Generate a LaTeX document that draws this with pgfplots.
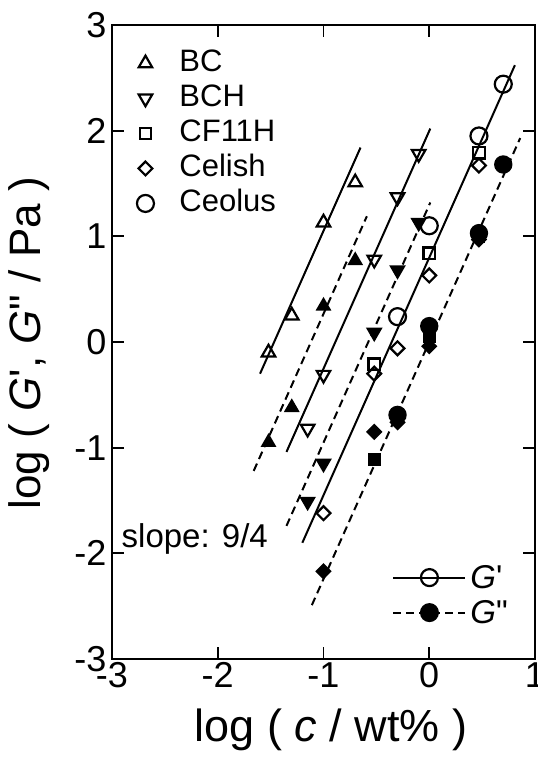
\documentclass[border=0pt]{standalone}
\usepackage{fontspec}
\setmainfont{Liberation Sans}
\usepackage{pgfplots}
\pgfplotsset{compat=1.18}
\begin{document}
\begin{tikzpicture}
\pgfplotsset{
  gline/.style={black, line width=2pt, no marks, forget plot},
  dline/.style={black, line width=2pt, no marks, forget plot, dash pattern=on 8pt off 5pt},
  omk/.style={black, only marks, line width=2.2pt, mark options={solid, fill=white, line width=2.2pt}},
  fmk/.style={black, only marks, forget plot, line width=1.8pt, mark options={solid, fill=black, line width=1.4pt}},
  tri/.style={mark=triangle, mark size=7.8pt},
  trif/.style={mark=triangle*, mark size=7.8pt},
  tdn/.style={mark=triangle, mark size=7.8pt, mark options={rotate=180}},
  tdnf/.style={mark=triangle*, mark size=7.8pt, mark options={rotate=180}},
  sq/.style={mark=square, mark size=5.7pt},
  sqf/.style={mark=square*, mark size=5.7pt},
  dia/.style={mark=square, mark size=4.9pt, mark options={rotate=45}},
  diaf/.style={mark=square*, mark size=4.9pt, mark options={rotate=45}},
  cir/.style={mark=o, mark size=8.5pt},
  cirf/.style={mark=*, mark size=8.5pt},
}
\begin{axis}[
  at={(0pt,0pt)}, anchor=south west,
  scale only axis, width=423pt, height=634pt,
  xmin=-3, xmax=1, ymin=-3, ymax=3,
  xtick={-3,-2,-1,0,1}, ytick={-3,-2,-1,0,1,2,3},
  tick align=inside, major tick length=12pt,
  axis line style={line width=2.3pt},
  every tick/.style={black, line width=1.9pt},
  ticklabel style={font=\fontsize{36}{38}\selectfont},
  /pgf/number format/assume math mode=true,
  xticklabel style={yshift=0pt},
  yticklabel style={xshift=-2pt},
  xlabel={log ( \textit{c} / wt\% )},
  ylabel={log ( \textit{G}\textquotesingle, \textit{G}\textquotedbl{} / Pa )},
  every axis x label/.style={at={(axis description cs:0.518,-0.112)}, anchor=center, font=\fontsize{45}{47}\selectfont},
  every axis y label/.style={at={(axis description cs:-0.195,0.498)}, rotate=90, anchor=center, font=\fontsize{44}{46}\selectfont},
  legend style={at={(axis cs:-2.78,2.78)}, anchor=north west, draw=none, fill=none,
    font=\fontsize{31}{33}\selectfont, inner sep=0pt, column sep=23pt, row sep=5pt,
    nodes={inner sep=1pt, text height=22pt, text depth=6pt}},
  legend cell align=left,
  legend image code/.code={\path[draw=none, fill=none] (0pt,0pt) -- (20pt,0pt); \draw[#1] plot coordinates {(10pt,0pt)};},
]
% fitted lines, slope 9/4
\addplot[gline] coordinates {(-1.60,-0.30) (-0.65,1.84)};
\addplot[dline] coordinates {(-1.66,-1.22) (-0.59,1.19)};
\addplot[gline] coordinates {(-1.35,-1.04) (0.01,2.02)};
\addplot[dline] coordinates {(-1.35,-1.74) (0.01,1.32)};
\addplot[gline] coordinates {(-1.20,-1.90) (0.81,2.62)};
\addplot[dline] coordinates {(-1.11,-2.49) (0.86,1.93)};
% BC
\addplot[fmk, trif] coordinates {(-1.52,-0.95) (-1.30,-0.62) (-1.00,0.34) (-0.70,0.77)};
\addplot[omk, tri] coordinates {(-1.52,-0.10) (-1.30,0.25) (-1.00,1.13) (-0.70,1.51)};
\addlegendentry{BC}
% BCH
\addplot[fmk, tdnf] coordinates {(-1.15,-1.51) (-1.00,-1.15) (-0.52,0.09) (-0.30,0.68) (-0.10,1.13)};
\addplot[omk, tdn] coordinates {(-1.15,-0.82) (-1.00,-0.31) (-0.52,0.78) (-0.30,1.37) (-0.10,1.78)};
\addlegendentry{BCH}
% CF11H
\addplot[fmk, sqf] coordinates {(-0.52,-1.11) (0,0.05) (0.47,1.00)};
\addplot[omk, sq] coordinates {(-0.52,-0.21) (0,0.84) (0.47,1.79)};
\addlegendentry{CF11H}
% Celish
\addplot[fmk, diaf] coordinates {(-1.00,-2.17) (-0.52,-0.85) (-0.30,-0.76) (0,-0.04) (0.47,0.97)};
\addplot[omk, dia] coordinates {(-1.00,-1.62) (-0.52,-0.30) (-0.30,-0.06) (0,0.63) (0.47,1.67)};
\addlegendentry{Celish}
% Ceolus
\addplot[fmk, cirf] coordinates {(-0.30,-0.69) (0,0.15) (0.47,1.03) (0.70,1.68)};
\addplot[omk, cir] coordinates {(-0.30,0.24) (0,1.10) (0.47,1.95) (0.70,2.44)};
\addlegendentry{Ceolus}
\node[anchor=west, inner sep=0pt, font=\fontsize{33}{35}\selectfont] at (axis cs:-2.91,-1.86) {slope: 9/4};
\end{axis}
\begin{axis}[
  at={(0pt,0pt)}, anchor=south west,
  scale only axis, width=423pt, height=634pt,
  xmin=-3, xmax=1, ymin=-3, ymax=3, hide axis,
  legend style={at={(axis cs:-0.35,-2.10)}, anchor=north west, draw=none, fill=none,
    font=\fontsize{33}{35}\selectfont, inner sep=0pt, column sep=3pt, row sep=8pt,
    nodes={inner sep=1pt, text height=23pt, text depth=2pt}},
  legend cell align=left,
  legend image code/.code={\draw[#1, mark repeat=2, mark phase=2] plot coordinates {(0pt,0pt) (36pt,0pt) (72pt,0pt)};},
]
\addlegendimage{black, line width=2pt, mark=o, mark size=8.5pt, mark options={solid, fill=white, line width=2.2pt}}
\addlegendentry{\textit{G}\textquotesingle}
\addlegendimage{black, line width=2pt, dash pattern=on 8pt off 5pt, mark=*, mark size=8.5pt, mark options={solid, fill=black}}
\addlegendentry{\textit{G}\textquotedbl}
\end{axis}
\pgfresetboundingbox
\path[use as bounding box] (-112pt,-99pt) rectangle (426pt,659pt);
\end{tikzpicture}
\end{document}
